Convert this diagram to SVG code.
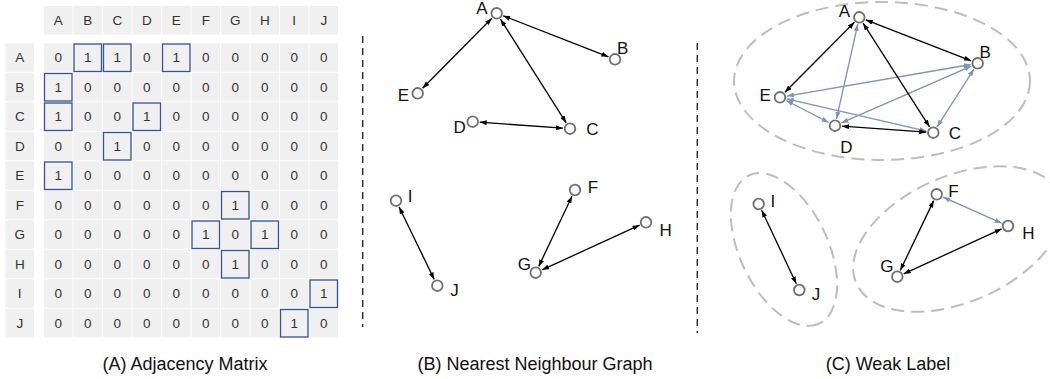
<svg xmlns="http://www.w3.org/2000/svg" width="1050" height="379" viewBox="0 0 1050 379">
<style>
.cell{fill:#f0f0f0}
.hl{fill:none;stroke:#2f5597;stroke-width:1.3}
.mt{font-family:"Liberation Sans",Arial,sans-serif;font-size:13.5px;fill:#333;text-anchor:middle}
.cap{font-family:"Liberation Sans",Arial,sans-serif;font-size:18px;fill:#111;text-anchor:middle}
.lb{font-family:"Liberation Sans",Arial,sans-serif;font-size:17px;fill:#111}
.nd{fill:#fff;stroke:#707070;stroke-width:1.8}
.eb{stroke:#000;stroke-width:1.3;fill:none;marker-start:url(#ak);marker-end:url(#ak)}
.eu{stroke:#7b93b5;stroke-width:1.3;fill:none;marker-start:url(#au);marker-end:url(#au)}
.sep{stroke:#333;stroke-width:1.5;stroke-dasharray:7 5}
.grp{fill:none;stroke:#bdbdbd;stroke-width:2;stroke-dasharray:13 7}
</style>
<defs>
<marker id="ak" markerUnits="userSpaceOnUse" markerWidth="7" markerHeight="5" refX="7" refY="2.5" orient="auto-start-reverse"><path d="M0,0 L7,2.5 L0,5 z" fill="#000"/></marker>
<marker id="au" markerUnits="userSpaceOnUse" markerWidth="7" markerHeight="5" refX="7" refY="2.5" orient="auto-start-reverse"><path d="M0,0 L7,2.5 L0,5 z" fill="#7b93b5"/></marker>
</defs>
<rect width="1050" height="379" fill="#fff"/>

<g id="matrix">
<g id="col-headers">
<rect class="cell" x="44" y="6" width="28.5" height="28.5"/><rect class="cell" x="73.5" y="6" width="28.5" height="28.5"/><rect class="cell" x="103" y="6" width="28.5" height="28.5"/><rect class="cell" x="132.5" y="6" width="28.5" height="28.5"/><rect class="cell" x="162" y="6" width="28.5" height="28.5"/><rect class="cell" x="191.5" y="6" width="28.5" height="28.5"/><rect class="cell" x="221" y="6" width="28.5" height="28.5"/><rect class="cell" x="250.5" y="6" width="28.5" height="28.5"/><rect class="cell" x="280" y="6" width="28.5" height="28.5"/><rect class="cell" x="309.5" y="6" width="28.5" height="28.5"/>
<text class="mt" x="58.25" y="25">A</text><text class="mt" x="87.75" y="25">B</text><text class="mt" x="117.25" y="25">C</text><text class="mt" x="146.75" y="25">D</text><text class="mt" x="176.25" y="25">E</text><text class="mt" x="205.75" y="25">F</text><text class="mt" x="235.25" y="25">G</text><text class="mt" x="264.75" y="25">H</text><text class="mt" x="294.25" y="25">I</text><text class="mt" x="323.75" y="25">J</text>
</g>
<g id="row-headers">
<rect class="cell" x="5.5" y="43.3" width="28.5" height="28.5"/><rect class="cell" x="5.5" y="72.8" width="28.5" height="28.5"/><rect class="cell" x="5.5" y="102.3" width="28.5" height="28.5"/><rect class="cell" x="5.5" y="131.8" width="28.5" height="28.5"/><rect class="cell" x="5.5" y="161.3" width="28.5" height="28.5"/><rect class="cell" x="5.5" y="190.8" width="28.5" height="28.5"/><rect class="cell" x="5.5" y="220.3" width="28.5" height="28.5"/><rect class="cell" x="5.5" y="249.8" width="28.5" height="28.5"/><rect class="cell" x="5.5" y="279.3" width="28.5" height="28.5"/><rect class="cell" x="5.5" y="308.8" width="28.5" height="28.5"/>
<text class="mt" x="19.75" y="62.3">A</text><text class="mt" x="19.75" y="91.8">B</text><text class="mt" x="19.75" y="121.3">C</text><text class="mt" x="19.75" y="150.8">D</text><text class="mt" x="19.75" y="180.3">E</text><text class="mt" x="19.75" y="209.8">F</text><text class="mt" x="19.75" y="239.3">G</text><text class="mt" x="19.75" y="268.8">H</text><text class="mt" x="19.75" y="298.3">I</text><text class="mt" x="19.75" y="327.8">J</text>
</g>
<g id="cells">
<rect class="cell" x="44" y="43.3" width="294" height="294"/>
<g stroke="#fff" stroke-width="1">
<line x1="73" y1="43.3" x2="73" y2="337.3"/><line x1="102.5" y1="43.3" x2="102.5" y2="337.3"/><line x1="132" y1="43.3" x2="132" y2="337.3"/><line x1="161.5" y1="43.3" x2="161.5" y2="337.3"/><line x1="191" y1="43.3" x2="191" y2="337.3"/><line x1="220.5" y1="43.3" x2="220.5" y2="337.3"/><line x1="250" y1="43.3" x2="250" y2="337.3"/><line x1="279.5" y1="43.3" x2="279.5" y2="337.3"/><line x1="309" y1="43.3" x2="309" y2="337.3"/>
<line x1="44" y1="72.3" x2="338" y2="72.3"/><line x1="44" y1="101.8" x2="338" y2="101.8"/><line x1="44" y1="131.3" x2="338" y2="131.3"/><line x1="44" y1="160.8" x2="338" y2="160.8"/><line x1="44" y1="190.3" x2="338" y2="190.3"/><line x1="44" y1="219.8" x2="338" y2="219.8"/><line x1="44" y1="249.3" x2="338" y2="249.3"/><line x1="44" y1="278.8" x2="338" y2="278.8"/><line x1="44" y1="308.3" x2="338" y2="308.3"/>
</g>
<text class="mt" y="62.3"><tspan x="58.25">0</tspan><tspan x="87.75">1</tspan><tspan x="117.25">1</tspan><tspan x="146.75">0</tspan><tspan x="176.25">1</tspan><tspan x="205.75">0</tspan><tspan x="235.25">0</tspan><tspan x="264.75">0</tspan><tspan x="294.25">0</tspan><tspan x="323.75">0</tspan></text>
<text class="mt" y="91.8"><tspan x="58.25">1</tspan><tspan x="87.75">0</tspan><tspan x="117.25">0</tspan><tspan x="146.75">0</tspan><tspan x="176.25">0</tspan><tspan x="205.75">0</tspan><tspan x="235.25">0</tspan><tspan x="264.75">0</tspan><tspan x="294.25">0</tspan><tspan x="323.75">0</tspan></text>
<text class="mt" y="121.3"><tspan x="58.25">1</tspan><tspan x="87.75">0</tspan><tspan x="117.25">0</tspan><tspan x="146.75">1</tspan><tspan x="176.25">0</tspan><tspan x="205.75">0</tspan><tspan x="235.25">0</tspan><tspan x="264.75">0</tspan><tspan x="294.25">0</tspan><tspan x="323.75">0</tspan></text>
<text class="mt" y="150.8"><tspan x="58.25">0</tspan><tspan x="87.75">0</tspan><tspan x="117.25">1</tspan><tspan x="146.75">0</tspan><tspan x="176.25">0</tspan><tspan x="205.75">0</tspan><tspan x="235.25">0</tspan><tspan x="264.75">0</tspan><tspan x="294.25">0</tspan><tspan x="323.75">0</tspan></text>
<text class="mt" y="180.3"><tspan x="58.25">1</tspan><tspan x="87.75">0</tspan><tspan x="117.25">0</tspan><tspan x="146.75">0</tspan><tspan x="176.25">0</tspan><tspan x="205.75">0</tspan><tspan x="235.25">0</tspan><tspan x="264.75">0</tspan><tspan x="294.25">0</tspan><tspan x="323.75">0</tspan></text>
<text class="mt" y="209.8"><tspan x="58.25">0</tspan><tspan x="87.75">0</tspan><tspan x="117.25">0</tspan><tspan x="146.75">0</tspan><tspan x="176.25">0</tspan><tspan x="205.75">0</tspan><tspan x="235.25">1</tspan><tspan x="264.75">0</tspan><tspan x="294.25">0</tspan><tspan x="323.75">0</tspan></text>
<text class="mt" y="239.3"><tspan x="58.25">0</tspan><tspan x="87.75">0</tspan><tspan x="117.25">0</tspan><tspan x="146.75">0</tspan><tspan x="176.25">0</tspan><tspan x="205.75">1</tspan><tspan x="235.25">0</tspan><tspan x="264.75">1</tspan><tspan x="294.25">0</tspan><tspan x="323.75">0</tspan></text>
<text class="mt" y="268.8"><tspan x="58.25">0</tspan><tspan x="87.75">0</tspan><tspan x="117.25">0</tspan><tspan x="146.75">0</tspan><tspan x="176.25">0</tspan><tspan x="205.75">0</tspan><tspan x="235.25">1</tspan><tspan x="264.75">0</tspan><tspan x="294.25">0</tspan><tspan x="323.75">0</tspan></text>
<text class="mt" y="298.3"><tspan x="58.25">0</tspan><tspan x="87.75">0</tspan><tspan x="117.25">0</tspan><tspan x="146.75">0</tspan><tspan x="176.25">0</tspan><tspan x="205.75">0</tspan><tspan x="235.25">0</tspan><tspan x="264.75">0</tspan><tspan x="294.25">0</tspan><tspan x="323.75">1</tspan></text>
<text class="mt" y="327.8"><tspan x="58.25">0</tspan><tspan x="87.75">0</tspan><tspan x="117.25">0</tspan><tspan x="146.75">0</tspan><tspan x="176.25">0</tspan><tspan x="205.75">0</tspan><tspan x="235.25">0</tspan><tspan x="264.75">0</tspan><tspan x="294.25">1</tspan><tspan x="323.75">0</tspan></text>
</g>
<g id="highlights">
<rect class="hl" x="74" y="44" width="27.5" height="27.5"/><rect class="hl" x="103.5" y="44" width="27.5" height="27.5"/><rect class="hl" x="162.5" y="44" width="27.5" height="27.5"/>
<rect class="hl" x="44.5" y="73.5" width="27.5" height="27.5"/>
<rect class="hl" x="44.5" y="103" width="27.5" height="27.5"/><rect class="hl" x="133" y="103" width="27.5" height="27.5"/>
<rect class="hl" x="103.5" y="132.5" width="27.5" height="27.5"/>
<rect class="hl" x="44.5" y="162" width="27.5" height="27.5"/>
<rect class="hl" x="221.5" y="191.5" width="27.5" height="27.5"/>
<rect class="hl" x="192" y="221" width="27.5" height="27.5"/><rect class="hl" x="251" y="221" width="27.5" height="27.5"/>
<rect class="hl" x="221.5" y="250.5" width="27.5" height="27.5"/>
<rect class="hl" x="310" y="280" width="27.5" height="27.5"/>
<rect class="hl" x="280.5" y="309.5" width="27.5" height="27.5"/>
</g>
</g>

<g id="separators">
<line class="sep" x1="362.7" y1="36" x2="362.7" y2="327"/>
<line class="sep" x1="697.3" y1="43" x2="697.3" y2="333"/>
</g>

<g id="clusters">
<ellipse class="grp" cx="882" cy="81" rx="148" ry="79"/>
<ellipse class="grp" cx="0" cy="0" rx="82" ry="44" transform="translate(784 249.5) rotate(64.5)"/>
<ellipse class="grp" cx="0" cy="0" rx="111" ry="63" transform="translate(958 239) rotate(-23.5)"/>
</g>

<g id="connectors">
<line class="eb" x1="503.2" y1="15.8" x2="608.5" y2="56.8"/>
<line class="eb" x1="491.8" y1="18.3" x2="422.6" y2="88.3"/>
<line class="eb" x1="500.5" y1="19.2" x2="566.2" y2="122.8"/>
<line class="eb" x1="479.7" y1="122.2" x2="563" y2="128.2"/>
<line class="eb" x1="399.1" y1="207" x2="434.2" y2="279.4"/>
<line class="eb" x1="572" y1="196.3" x2="538.7" y2="266.4"/>
<line class="eb" x1="639.6" y1="225.2" x2="542.1" y2="269.8"/>

<line class="eu" x1="857.8" y1="24.1" x2="836.5" y2="118.9"/>
<line class="eu" x1="786.9" y1="96.1" x2="970.8" y2="64.5"/>
<line class="eu" x1="786.8" y1="98.9" x2="926.5" y2="131.1"/>
<line class="eu" x1="786.2" y1="100.5" x2="828.8" y2="122.5"/>
<line class="eu" x1="841.4" y1="122.9" x2="971.3" y2="66.1"/>
<line class="eu" x1="937.1" y1="126.8" x2="973.9" y2="69.2"/>
<line class="eu" x1="943.1" y1="197.1" x2="1001.6" y2="223.2"/>
<line class="eb" x1="865.8" y1="19.8" x2="971.2" y2="60.8"/>
<line class="eb" x1="854.4" y1="22.3" x2="784.9" y2="92.3"/>
<line class="eb" x1="863.1" y1="23.2" x2="929.5" y2="126.8"/>
<line class="eb" x1="842" y1="126.2" x2="926.3" y2="132.2"/>
<line class="eb" x1="761.7" y1="210.3" x2="796.3" y2="283.7"/>
<line class="eb" x1="933.7" y1="200.6" x2="900.3" y2="270.4"/>
<line class="eb" x1="903.7" y1="273.8" x2="1001.6" y2="228.9"/>
</g>

<g id="nnA"><circle class="nd" cx="496.7" cy="13.3" r="5.3"/><text class="lb" x="476.2" y="14">A</text></g>
<g id="nnB"><circle class="nd" cx="615" cy="59.3" r="5.3"/><text class="lb" x="617" y="53.8">B</text></g>
<g id="nnC"><circle class="nd" cx="570" cy="128.7" r="5.3"/><text class="lb" x="586.2" y="134.8">C</text></g>
<g id="nnD"><circle class="nd" cx="472.7" cy="121.7" r="5.3"/><text class="lb" x="453.5" y="132.8">D</text></g>
<g id="nnE"><circle class="nd" cx="417.7" cy="93.3" r="5.3"/><text class="lb" x="397.8" y="100.5">E</text></g>
<g id="nnF"><circle class="nd" cx="575" cy="190" r="5.3"/><text class="lb" x="587.7" y="193.2">F</text></g>
<g id="nnG"><circle class="nd" cx="535.7" cy="272.7" r="5.3"/><text class="lb" x="517.8" y="269.5">G</text></g>
<g id="nnH"><circle class="nd" cx="646" cy="222.3" r="5.3"/><text class="lb" x="659.5" y="235.5">H</text></g>
<g id="nnI"><circle class="nd" cx="396" cy="200.7" r="5.3"/><text class="lb" x="407.8" y="202.2">I</text></g>
<g id="nnJ"><circle class="nd" cx="437.3" cy="285.7" r="5.3"/><text class="lb" x="450.2" y="295.5">J</text></g>

<g id="wlA"><circle class="nd" cx="859.3" cy="17.3" r="5.3"/><text class="lb" x="838.8" y="17.2">A</text></g>
<g id="wlB"><circle class="nd" cx="977.7" cy="63.3" r="5.3"/><text class="lb" x="979.5" y="57.8">B</text></g>
<g id="wlC"><circle class="nd" cx="933.3" cy="132.7" r="5.3"/><text class="lb" x="948.8" y="138.8">C</text></g>
<g id="wlD"><circle class="nd" cx="835" cy="125.7" r="5.3"/><text class="lb" x="840.2" y="153.2">D</text></g>
<g id="wlE"><circle class="nd" cx="780" cy="97.3" r="5.3"/><text class="lb" x="759.5" y="100.5">E</text></g>
<g id="wlF"><circle class="nd" cx="936.7" cy="194.3" r="5.3"/><text class="lb" x="948.3" y="197.2">F</text></g>
<g id="wlG"><circle class="nd" cx="897.3" cy="276.7" r="5.3"/><text class="lb" x="880.2" y="272.2">G</text></g>
<g id="wlH"><circle class="nd" cx="1008" cy="226" r="5.3"/><text class="lb" x="1022.2" y="238.8">H</text></g>
<g id="wlI"><circle class="nd" cx="758.7" cy="204" r="5.3"/><text class="lb" x="770.5" y="206.5">I</text></g>
<g id="wlJ"><circle class="nd" cx="799.3" cy="290" r="5.3"/><text class="lb" x="811.8" y="299.8">J</text></g>

<g id="captions">
<text class="cap" x="185" y="369.5">(A) Adjacency Matrix</text>
<text class="cap" x="535" y="369.5">(B) Nearest Neighbour Graph</text>
<text class="cap" x="888" y="369.5">(C) Weak Label</text>
</g>
</svg>
